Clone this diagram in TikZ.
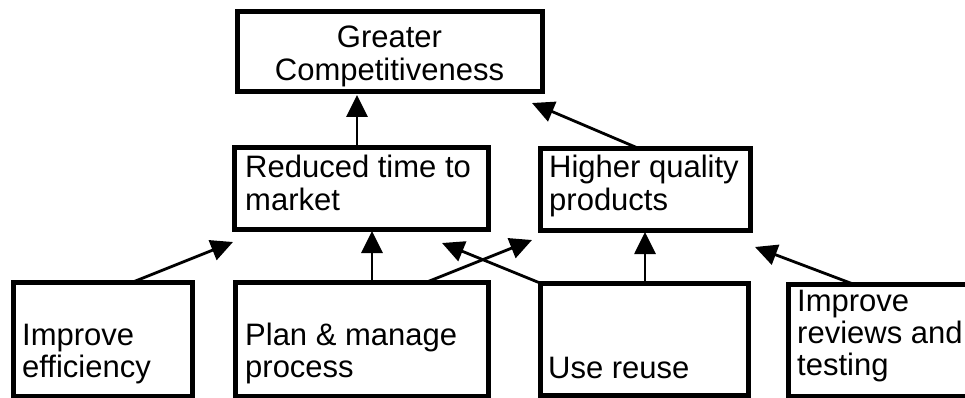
\documentclass[tikz,border=0pt]{standalone}
\usepackage{fontspec}
\setmainfont{Liberation Sans}
\usetikzlibrary{arrows.meta,calc}

% multi-line labels: baseline of the node is the first line
\newcommand{\leftlines}[1]{\begin{tabular}[t]{@{}l@{}}#1\end{tabular}}
\newcommand{\centerlines}[1]{\begin{tabular}[t]{@{}c@{}}#1\end{tabular}}

\tikzset{
  box/.style={draw, line width=5pt, rectangle, inner sep=0pt, outer sep=0pt, anchor=north west},
  label text/.style={inner sep=0pt, font=\fontsize{31}{32}\selectfont},
  link/.style={line width=2.8pt, -{Triangle[length=22pt,width=21pt]}}
}

\begin{document}
\begin{tikzpicture}[x=1pt,y=-1pt]
  \path[use as bounding box, clip] (0,0) rectangle (965,398);
  \fill[white] (0,0) rectangle (965,398);

  % boxes
  \node[box, minimum width=305pt, minimum height=80pt]  (G)  at (237,12)  {};
  \node[box, minimum width=254pt, minimum height=81pt]  (R)  at (234,148) {};
  \node[box, minimum width=210pt, minimum height=81pt]  (H)  at (540,149) {};
  \node[box, minimum width=179pt, minimum height=114pt] (IE) at (13,282)  {};
  \node[box, minimum width=253pt, minimum height=114pt] (P)  at (235,282) {};
  \node[box, minimum width=208pt, minimum height=112pt] (U)  at (540,283) {};
  \node[box, minimum width=220pt, minimum height=112pt] (IR) at (788,284) {};

  % box texts
  \node[label text, anchor=base]      (tG)  at (389.5,48) {\centerlines{Greater\\Competitiveness}};
  \node[label text, anchor=base west] (tR)  at (245,178)  {\leftlines{Reduced time to\\market}};
  \node[label text, anchor=base west] (tH)  at (549,178)  {\leftlines{Higher quality\\products}};
  \node[label text, anchor=base west] (tIE) at (22,345)   {\leftlines{Improve\\efficiency}};
  \node[label text, anchor=base west] (tP)  at (245,345)  {\leftlines{Plan \& manage\\process}};
  \node[label text, anchor=base west] (tU)  at (548,378)  {Use reuse};
  \node[label text, anchor=base west] (tIR) at (797,311)  {\leftlines{Improve\\reviews and\\testing}};

  % contributions
  \draw[link] ($(R.north west)+(123,0)$)  -- ($(G.south west)+(120,3)$);
  \draw[link] ($(H.north west)+(100,0)$)  -- ($(G.south east)+(-10,11)$);
  \draw[link] ($(IE.north west)+(120,0)$) -- ($(R.south west)+(-1,13)$);
  \draw[link] ($(P.north west)+(137,0)$)  -- ($(R.south west)+(138,2)$);
  \draw[link] ($(P.north west)+(192,0)$)  -- ($(H.south west)+(-8,10)$);
  \draw[link] (U.north west)              -- ($(R.south east)+(-46,14)$);
  \draw[link] ($(U.north west)+(105,0)$)  -- ($(H.south west)+(105,2)$);
  \draw[link] ($(IR.north west)+(65,0)$)  -- ($(H.south east)+(5,17)$);
\end{tikzpicture}
\end{document}
